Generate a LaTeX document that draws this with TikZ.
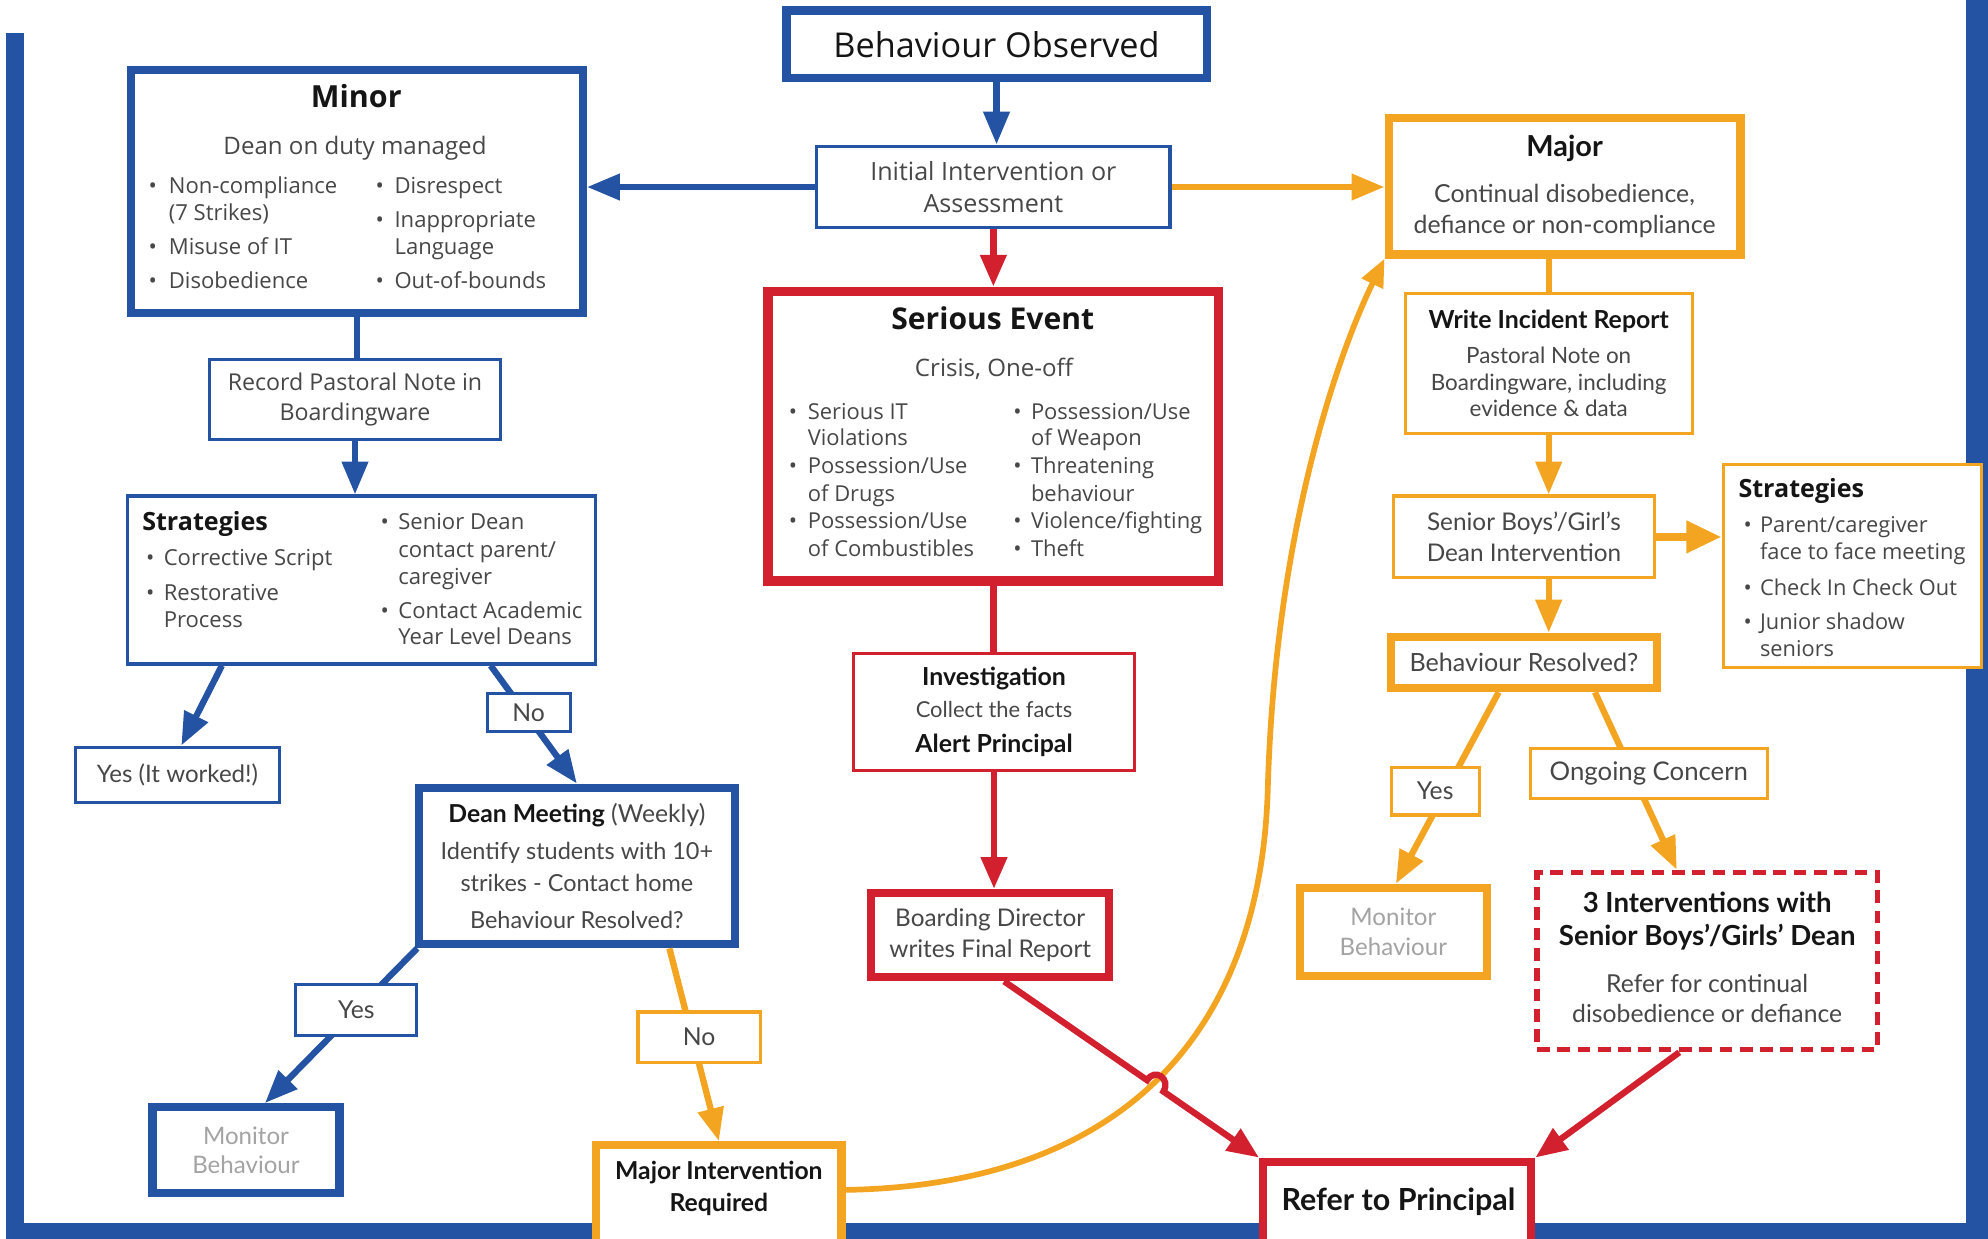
\documentclass[tikz,border=0pt]{standalone}
\usepackage{fontspec}
\setmainfont{Open Sans}
\newfontfamily\lato{Lato}
\usetikzlibrary{arrows.meta,calc}
\definecolor{bblue}{HTML}{2353A2}
\definecolor{borg}{HTML}{F3A521}
\definecolor{bred}{HTML}{D3202E}
\definecolor{tgray}{HTML}{474747}
\definecolor{tblack}{HTML}{151515}
\definecolor{lgray}{HTML}{A3A3A3}
\newcommand\setfs[2]{\fontsize{#1}{#2}\selectfont}
\begin{document}
\begin{tikzpicture}[x=1pt,y=-1pt,
  box/.style={draw,fill=white,inner sep=0pt,align=center,text=tgray},
  thinb/.style={line width=2.5pt},
  thickb/.style={line width=6.5pt},
  lt/.style={anchor=mid west,inner sep=0pt,text=tgray,yshift=-5pt},
  ct/.style={anchor=mid,inner sep=0pt,text=tblack,yshift=-5pt},
  lbl/.style={box,thinb,font=\lato\setfs{19.5}{22}},
  barr/.style={draw=bblue,line width=5pt,-{Triangle[length=26pt,width=20pt]}},
  rarr/.style={draw=bred,line width=5pt,-{Triangle[length=25pt,width=20pt]}},
  oarr/.style={draw=borg,line width=5pt,-{Triangle[length=26pt,width=20pt]}},
  bline/.style={draw=bblue,line width=5pt},
  rline/.style={draw=bred,line width=5pt},
  oline/.style={draw=borg,line width=5pt}]
\useasboundingbox (0,0) rectangle (1568,977);
\fill[white] (0,0) rectangle (1568,977);
% frame
\fill[bblue] (5,26) rectangle (19,977);
\fill[bblue] (5,965) rectangle (1568,977);
\fill[bblue] (1551,0) rectangle (1568,977);

% ---------- boxes ----------
\node[box,thickb,draw=bblue,minimum width=331.5pt,minimum height=53.5pt,font=\setfs{27}{30},text=tblack] (obs) at (786,35) {Behaviour Observed};
\node[box,thinb,draw=bblue,minimum width=278.5pt,minimum height=64.5pt,font=\setfs{19.8}{25}] (init) at (783.5,147.5) {Initial Intervention or\\Assessment};

% Minor
\node[box,thickb,draw=bblue,minimum width=356.5pt,minimum height=191.5pt] (minor) at (281.5,151) {};
\node[ct,font=\bfseries\setfs{24}{26}] (minorT) at (281,77) {Minor};
\node[ct,font=\setfs{19}{22},text=tgray] (minorS) at (280,114) {Dean on duty managed};
\begin{scope}[every node/.style={lt,font=\setfs{17.4}{20}}]
\node (mi1) at (117,145) {\makebox[16pt][l]{•}Non-compliance};
\node (mi1b) at (133,166) {(7 Strikes)};
\node (mi2) at (117,193) {\makebox[16pt][l]{•}Misuse of IT};
\node (mi3) at (117,220) {\makebox[16pt][l]{•}Disobedience};
\node (mi4) at (296,145) {\makebox[15pt][l]{•}Disrespect};
\node (mi5) at (296,172) {\makebox[15pt][l]{•}Inappropriate};
\node (mi5b) at (311,193) {Language};
\node (mi6) at (296,220) {\makebox[15pt][l]{•}Out-of-bounds};
\end{scope}

\node[box,thinb,draw=bblue,minimum width=229.5pt,minimum height=63.5pt,font=\setfs{18.3}{24}] (record) at (280,315) {Record Pastoral Note in\\Boardingware};

% Strategies left
\node[box,thinb,draw=bblue,minimum width=369.5pt,minimum height=132.5pt] (stratL) at (285,457.5) {};
\node[anchor=mid west,inner sep=0pt,text=tblack,yshift=-5pt,font=\bfseries\setfs{19.8}{22}] (stratLT) at (112,411) {Strategies};
\begin{scope}[every node/.style={lt,font=\setfs{17.4}{20}}]
\node (sl1) at (115,438) {\makebox[14pt][l]{•}Corrective Script};
\node (sl2) at (115,466) {\makebox[14pt][l]{•}Restorative};
\node (sl2b) at (129,487) {Process};
\node (sl3) at (300,410) {\makebox[14pt][l]{•}Senior Dean};
\node (sl3b) at (314,432) {contact parent/};
\node (sl3c) at (314,453) {caregiver};
\node (sl4) at (300,480) {\makebox[14pt][l]{•}Contact Academic};
\node (sl4b) at (314,501) {Year Level Deans};
\end{scope}

\node[box,thinb,draw=bblue,minimum width=161.5pt,minimum height=43.5pt,font=\lato\setfs{19}{20}] (yesw) at (140,611) {Yes (It worked!)};

\node[box,thickb,draw=bblue,minimum width=249.5pt,minimum height=123.5pt,font=\lato\setfs{18.5}{25}] (dean) at (455,683)
  {{\setfs{19.5}{25}{\bfseries\color{tblack}Dean Meeting} (Weekly)}\\[4pt]Identify students with 10+\\strikes - Contact home\\[4pt]Behaviour Resolved?};

\node[box,thickb,draw=bblue,minimum width=147.5pt,minimum height=67.5pt,font=\lato\setfs{19}{23},text=lgray] (monL) at (194,907) {Monitor\\Behaviour};

\node[box,thickb,draw=borg,minimum width=193.5pt,minimum height=78.5pt] (majint) at (567,942.5) {};
\node[anchor=center,inner sep=0pt,text=tblack,font=\lato\bfseries\setfs{19.5}{25},align=center] (majintT) at (567,937.5) {Major Intervention\\Required};

% Serious Event
\node[box,line width=7.5pt,draw=bred,minimum width=355.5pt,minimum height=228.5pt] (serious) at (783.5,344) {};
\node[ct,font=\bfseries\setfs{23.7}{26}] (seriousT) at (783,252) {Serious Event};
\node[ct,font=\setfs{19}{22},text=tgray] (seriousS) at (784,289) {Crisis, One-off};
\begin{scope}[every node/.style={lt,font=\setfs{17.3}{20}}]
\node (se1) at (622,323) {\makebox[15pt][l]{•}Serious IT};
\node (se1b) at (637,344) {Violations};
\node (se2) at (622,366) {\makebox[15pt][l]{•}Possession/Use};
\node (se2b) at (637,388) {of Drugs};
\node (se3) at (622,409) {\makebox[15pt][l]{•}Possession/Use};
\node (se3b) at (637,431) {of Combustibles};
\node (se4) at (799,323) {\makebox[14pt][l]{•}Possession/Use};
\node (se4b) at (813,344) {of Weapon};
\node (se5) at (799,366) {\makebox[14pt][l]{•}Threatening};
\node (se5b) at (813,388) {behaviour};
\node (se6) at (799,409) {\makebox[14pt][l]{•}Violence/fighting};
\node (se7) at (799,431) {\makebox[14pt][l]{•}Theft};
\end{scope}

\node[box,thinb,draw=bred,minimum width=221.5pt,minimum height=92.5pt,font=\lato\setfs{19.6}{25}] (invest) at (784,561.5)
  {{\bfseries\color{tblack}Investigation}\\{\setfs{17.3}{25}Collect the facts}\\[3pt]{\bfseries\color{tblack}Alert Principal}};
\node[box,thickb,draw=bred,minimum width=187.5pt,minimum height=66.5pt,font=\lato\setfs{19.2}{24}] (bdir) at (781,737.5) {Boarding Director\\writes Final Report};

\node[box,thickb,draw=bred,minimum width=211.5pt,minimum height=65.5pt] (refer) at (1102,949) {};
\node[ct,font=\lato\bfseries\setfs{24}{26}] (referT) at (1103,947) {Refer to Principal};

% Major side
\node[box,thickb,draw=borg,minimum width=277.5pt,minimum height=107.5pt,font=\lato\setfs{19.6}{24}] (major) at (1234,147)
  {{\bfseries\setfs{22.8}{24}\color{tblack}Major}\\[12pt]Continual disobedience,\\defiance or non-compliance};
\node[box,thinb,draw=borg,minimum width=226.5pt,minimum height=110.5pt,font=\lato\setfs{17.7}{21}] (write) at (1221.5,286.5)
  {{\bfseries\setfs{19.6}{21}\color{tblack}Write Incident Report}\\[7pt]Pastoral Note on\\Boardingware, including\\evidence \& data};
\node[box,thinb,draw=borg,minimum width=205.5pt,minimum height=64.5pt,font=\lato\setfs{19.2}{24}] (senior) at (1202,423.5) {Senior Boys’/Girl’s\\Dean Intervention};

\node[box,thinb,draw=borg,minimum width=203.5pt,minimum height=160.5pt] (stratR) at (1461,446.5) {};
\node[anchor=mid west,inner sep=0pt,text=tblack,yshift=-5pt,font=\bfseries\setfs{19.8}{22}] (stratRT) at (1371,385) {Strategies};
\begin{scope}[every node/.style={lt,font=\setfs{17.2}{20}}]
\node (sr1) at (1375,412) {\makebox[13pt][l]{•}Parent/caregiver};
\node (sr1b) at (1388,434) {face to face meeting};
\node (sr2) at (1375,462) {\makebox[13pt][l]{•}Check In Check Out};
\node (sr3) at (1375,489) {\makebox[13pt][l]{•}Junior shadow};
\node (sr3b) at (1388,510) {seniors};
\end{scope}

\node[box,thickb,draw=borg,minimum width=209.5pt,minimum height=40.5pt,font=\lato\setfs{19.8}{22}] (resolved) at (1202,522.5) {Behaviour Resolved?};
\node[box,thickb,draw=borg,minimum width=147.5pt,minimum height=69.5pt,font=\lato\setfs{19}{24},text=lgray] (monO) at (1099,735) {Monitor\\Behaviour};
\node[box,line width=4.5pt,dash pattern=on 10pt off 6pt,draw=bred,minimum width=268.5pt,minimum height=139.5pt] (three) at (1346.5,758) {};
\node[anchor=center,inner sep=0pt,align=center,text=tgray,font=\lato\setfs{19.5}{24}] (threeT) at (1346.5,755)
  {{\bfseries\setfs{21.8}{26}\color{tblack}3 Interventions with}\\[2pt]{\bfseries\setfs{21.8}{26}\color{tblack}Senior Boys’/Girls’ Dean}\\[13pt]Refer for continual\\disobedience or defiance};

% ---------- connectors ----------
\draw[barr] (obs.south) -- (obs.south |- init.north);
\draw[barr] (init.west) -- (init.west -| minor.east);
\draw[oarr] (init.east) -- (init.east -| major.west);
\draw[rarr] (init.south) -- (init.south |- serious.north);
\draw[bline] (minor.south) -- (minor.south |- record.north);
\draw[barr] (record.south) -- (record.south |- stratL.north);
\draw[barr] ([xshift=-110pt]stratL.south) -- ([xshift=3pt]yesw.north);
\draw[barr] ([xshift=102pt]stratL.south) -- (dean.north);
\draw[barr] ([xshift=2pt]dean.south west) -- ([xshift=15pt]monL.north);
\draw[oarr] ([xshift=73pt]dean.south) -- (majint.north);
\draw[rline] (serious.south) -- (serious.south |- invest.north);
\draw[rarr] (invest.south) -- (invest.south |- bdir.north);
\draw[oline] (write.north) -- (write.north |- major.south);
\draw[oarr] (write.south) -- (write.south |- senior.north);
\draw[oarr] (write.south |- senior.south) -- (write.south |- resolved.north);
\draw[draw=borg,line width=7pt,-{Triangle[length=28pt,width=24pt]}] (senior.east) -- (senior.east -| stratR.west);
\draw[oarr] ([xshift=-20pt]resolved.south) -- ([xshift=2pt]monO.north);
\draw[oarr] ([xshift=56pt]resolved.south) -- ([xshift=-24pt]three.north);
\draw[rarr] ([xshift=-22pt]three.south) -- (refer.north east);
% orange curve
\draw[draw=borg,line width=4.5pt,-{Triangle[length=22pt,width=18pt]}] ([yshift=4pt]majint.east) .. controls (880,935) and (995,820) .. (1000,620)
  .. controls (1006,420) and (1055,280) .. (major.south west);
% red with bridge
\coordinate (bdS) at ([xshift=11pt]bdir.south);
\draw[rarr] (bdS) -- ($(bdS)!0.561!(refer.north west)$) .. controls +(6,-10) and +(6,-10) .. ($(bdS)!0.625!(refer.north west)$) -- (refer.north west);

% ---------- labels on connectors ----------
\node[lbl,draw=bblue,minimum width=65.5pt,minimum height=29.5pt] (noL) at (417,562) {No};
\node[lbl,draw=bblue,minimum width=95.5pt,minimum height=40.5pt] (yesL) at (281,796.5) {Yes};
\node[lbl,draw=borg,minimum width=96.5pt,minimum height=39.5pt] (noO) at (551.5,818) {No};
\node[lbl,draw=borg,minimum width=69.5pt,minimum height=37.5pt] (yesO) at (1132,624) {Yes};
\node[lbl,draw=borg,minimum width=186.5pt,minimum height=39.5pt,font=\lato\setfs{20.3}{22}] (ongo) at (1300.5,610) {Ongoing Concern};
\end{tikzpicture}
\end{document}
